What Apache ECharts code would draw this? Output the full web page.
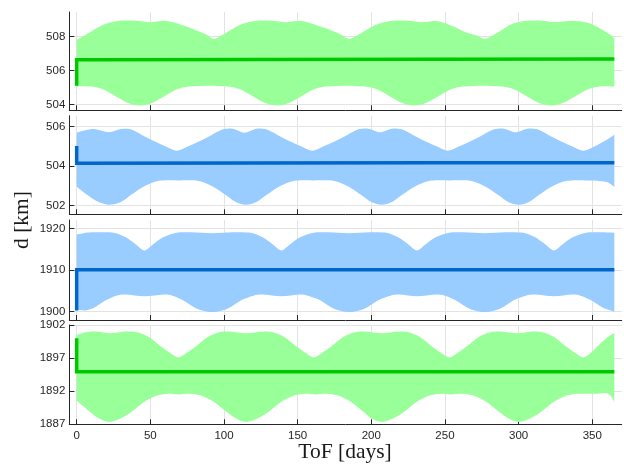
<!DOCTYPE html>
<html>
<head>
<meta charset="utf-8">
<script src="https://cdn.jsdelivr.net/npm/echarts@6/dist/echarts.min.js"></script>
<style>
html, body { margin:0; padding:0; background:#fff; }
#chart { width:624px; height:464px; }
</style>
</head>
<body>
<div id="chart"></div>
<script>
// tick labels
var xTicks = [0, 50, 100, 150, 200, 250, 300, 350];
var p1Ticks = [504, 506, 508];
var p2Ticks = [502, 504, 506];
var p3Ticks = [1900, 1910, 1920];
var p4Ticks = [1887, 1892, 1897, 1902];

// panel 1 envelope [day, km]
var p1Up = [[0,507.8],[5,508.05],[10,508.3],[19,508.72],[28,508.92],[40,508.93],[50,508.85],[60,508.93],[69,508.75],[81,508.38],[88,508.12],[93,507.86],
  [98,508.05],[103,508.3],[112,508.72],[121,508.92],[133,508.93],[142,508.85],[152,508.93],[161,508.72],[173,508.36],[180,508.1],[185,507.86],
  [190,508.05],[195,508.3],[204,508.72],[213,508.92],[225,508.93],[234,508.85],[244,508.92],[253,508.7],[265,508.22],[272,508.05],[277,507.86],
  [282,508.05],[287,508.3],[296,508.75],[305,508.93],[316,508.94],[325,508.86],[336,508.94],[347,508.82],[356,508.45],[362,508.12],[365,507.9]];
var p1Lo = [[0,505.06],[10,505.05],[19,504.85],[27,504.45],[35,504.08],[43,503.94],[51,504.08],[59,504.45],[67,504.85],[76,505.05],[90,505.1],
  [103,505.05],[112,504.85],[120,504.45],[128,504.08],[136,503.94],[144,504.08],[152,504.45],[160,504.85],[169,505.05],[183,505.1],
  [196,505.05],[205,504.85],[213,504.45],[221,504.08],[229,503.94],[237,504.08],[245,504.45],[253,504.85],[262,505.05],[276,505.1],
  [289,505.05],[298,504.85],[306,504.45],[314,504.08],[322,503.94],[330,504.08],[338,504.45],[346,504.85],[355,505.05],[365,505.05]];
var p1Mean = [[0,505.1],[0,506.63],[120,506.64],[240,506.66],[365,506.67]];

// panel 2
var p2Up = [[0,505.7],[6,505.82],[12,505.88],[22,505.72],[30,505.88],[36,505.88],[44,505.6],[53,505.25],[61,504.98],[68,504.78],
  [75,504.98],[83,505.25],[92,505.6],[100,505.88],[106,505.9],[114,505.7],[122,505.9],[128,505.88],[136,505.6],[145,505.25],[153,504.98],[160,504.78],
  [167,504.98],[175,505.25],[184,505.6],[192,505.88],[198,505.9],[206,505.72],[214,505.9],[220,505.88],[228,505.6],[237,505.25],[245,504.98],[252,504.78],
  [259,504.98],[267,505.25],[276,505.6],[284,505.88],[290,505.9],[298,505.72],[306,505.9],[312,505.88],[320,505.6],[329,505.25],[337,504.98],[344,504.78],
  [351,504.98],[359,505.3],[365,505.6]];
var p2Lo = [[0,502.96],[8,502.5],[15,502.18],[22,502.04],[30,502.18],[37,502.55],[45,502.95],[55,503.25],[69,503.28],[83,503.25],
  [93,502.95],[101,502.55],[108,502.18],[115,502.04],[122,502.18],[129,502.55],[137,502.95],[147,503.25],[161,503.28],[175,503.25],
  [185,502.95],[193,502.55],[200,502.18],[207,502.04],[214,502.18],[221,502.55],[229,502.95],[239,503.25],[253,503.28],[268,503.25],
  [278,502.95],[286,502.55],[293,502.18],[300,502.04],[307,502.18],[314,502.55],[322,502.95],[332,503.25],[346,503.28],[360,503.2],[365,502.95]];
var p2Mean = [[0,505.02],[0,504.15],[120,504.16],[240,504.17],[365,504.17]];

// panel 3
var p3Up = [[0,1918.5],[8,1919.0],[18,1919.05],[26,1918.9],[33,1917.9],[40,1916.2],[46,1914.7],[52,1916.2],[59,1917.9],[67,1918.9],
  [78,1919.05],[92,1918.85],[106,1919.05],[119,1918.9],[126,1917.9],[133,1916.2],[139,1914.7],[145,1916.2],[152,1917.9],[160,1918.9],
  [171,1919.05],[185,1918.85],[199,1919.05],[211,1918.9],[218,1917.9],[225,1916.2],[231,1914.7],[237,1916.2],[244,1917.9],[252,1918.9],
  [263,1919.05],[277,1918.85],[291,1919.05],[304,1918.9],[311,1917.9],[318,1916.2],[324,1914.7],[330,1916.2],[337,1917.9],[345,1918.9],
  [355,1919.05],[365,1918.95]];
var p3Lo = [[0,1900.5],[6,1900.3],[12,1901.0],[20,1902.8],[27,1903.85],[33,1904.1],[46,1903.7],[60,1904.1],[65,1903.85],[72,1902.8],[80,1901.0],[86,1900.2],
  [92,1899.9],[98,1900.2],[104,1901.0],[112,1902.8],[120,1903.85],[126,1904.1],[139,1903.7],[152,1904.1],[157,1903.85],[165,1902.8],[173,1901.0],[179,1900.2],
  [185,1899.9],[191,1900.2],[197,1901.0],[205,1902.8],[213,1903.85],[219,1904.1],[231,1903.7],[244,1904.1],[250,1903.85],[257,1902.8],[265,1901.0],[271,1900.2],
  [277,1899.9],[283,1900.2],[289,1901.0],[297,1902.8],[305,1903.85],[311,1904.1],[324,1903.7],[337,1904.1],[342,1903.85],[349,1902.8],[357,1901.0],[363,1900.2],[365,1900.0]];
var p3Mean = [[0,1900.3],[0,1910.05],[365,1910.05]];

// panel 4
var p4Up = [[0,1900.5],[6,1900.9],[13,1901.0],[23,1900.75],[33,1901.0],[41,1900.9],[49,1900.2],[57,1898.8],[64,1897.7],[69,1897.1],
  [74,1897.7],[81,1898.8],[89,1900.2],[97,1900.9],[103,1901.0],[115,1900.75],[127,1901.0],[133,1900.9],[141,1900.2],[149,1898.8],[156,1897.7],[161,1897.1],
  [166,1897.7],[173,1898.8],[181,1900.2],[189,1900.9],[195,1901.0],[207,1900.75],[219,1901.0],[225,1900.9],[233,1900.2],[241,1898.8],[248,1897.7],[253,1897.1],
  [258,1897.7],[265,1898.8],[273,1900.2],[281,1900.9],[287,1901.0],[299,1900.75],[310,1901.0],[316,1900.9],[324,1900.2],[332,1898.8],[339,1897.7],[344,1897.1],
  [349,1897.8],[356,1899.3],[362,1900.4],[365,1900.8]];
var p4Lo = [[0,1890.6],[8,1889.1],[15,1887.9],[22,1887.35],[30,1887.9],[38,1889.0],[46,1890.4],[54,1891.3],[62,1891.6],[69,1891.5],[77,1891.6],
  [85,1891.3],[93,1890.4],[101,1889.0],[108,1887.9],[115,1887.35],[123,1887.9],[131,1889.0],[139,1890.4],[147,1891.3],[155,1891.6],[162,1891.5],[170,1891.6],
  [178,1891.3],[186,1890.4],[194,1889.0],[200,1887.9],[207,1887.35],[215,1887.9],[223,1889.0],[231,1890.4],[239,1891.3],[247,1891.6],[254,1891.5],[262,1891.6],
  [270,1891.3],[278,1890.4],[286,1889.0],[293,1887.9],[300,1887.35],[308,1887.9],[316,1889.0],[324,1890.4],[332,1891.3],[340,1891.6],[352,1891.6],[360,1891.7],[363,1891.2],[365,1890.4]];
var p4Mean = [[0,1900.0],[0,1894.95],[365,1894.95]];

var GREEN_FILL = '#99ff99', GREEN_LINE = '#00c800';
var BLUE_FILL = '#99ccff', BLUE_LINE = '#0066cc';
var INK = '#262626', GRIDC = '#e3e3e3';

var panels = [
  {up:p1Up, lo:p1Lo, mean:p1Mean, ticks:p1Ticks, min:503.65, max:509.45, top:12,    h:98.3,  fill:GREEN_FILL, line:GREEN_LINE},
  {up:p2Up, lo:p2Lo, mean:p2Mean, ticks:p2Ticks, min:501.56, max:506.56, top:115.7, h:98.6,  fill:BLUE_FILL,  line:BLUE_LINE},
  {up:p3Up, lo:p3Lo, mean:p3Mean, ticks:p3Ticks, min:1898,   max:1922,   top:220,   h:100,   fill:BLUE_FILL,  line:BLUE_LINE},
  {up:p4Up, lo:p4Lo, mean:p4Mean, ticks:p4Ticks, min:1887,   max:1902,   top:325,   h:99.3,  fill:GREEN_FILL, line:GREEN_LINE}
];

function bandRender(up, lo, fill){
  return function(params, api){
    var pts = [], i, p;
    p = api.coord(up[0]); pts.push(p, p);
    for (i = 1; i < up.length - 1; i++) pts.push(api.coord(up[i]));
    p = api.coord(up[up.length - 1]); pts.push(p, p);
    p = api.coord(lo[lo.length - 1]); pts.push(p, p);
    for (i = lo.length - 2; i > 0; i--) pts.push(api.coord(lo[i]));
    p = api.coord(lo[0]); pts.push(p, p);
    return {type:'polygon', shape:{points:pts, smooth:0.3}, style:{fill:fill}};
  };
}

function plain(v){ return String(v); }

var labelFont = {color:INK, fontSize:11.5, fontFamily:'"Liberation Sans", Arial, sans-serif', formatter:plain};
var grids = [], xAxes = [], yAxes = [], series = [];
panels.forEach(function(pn, i){
  grids.push({left:69.3, right:2.3, top:pn.top, height:pn.h, containLabel:false});
  xAxes.push({
    gridIndex:i, type:'value', min:-5, max:370,
    axisLine:{show:true, onZero:false, lineStyle:{color:INK, width:1}},
    axisTick:{show:true, inside:true, length:5, customValues:xTicks, lineStyle:{color:INK}},
    axisLabel:Object.assign({show:i === 3, margin:6, customValues:xTicks}, labelFont),
    splitLine:{show:true, lineStyle:{color:GRIDC, width:1}}
  });
  yAxes.push({
    gridIndex:i, type:'value', min:pn.min, max:pn.max,
    axisLine:{show:true, onZero:false, lineStyle:{color:INK, width:1}},
    axisTick:{show:true, inside:true, length:5, customValues:pn.ticks, lineStyle:{color:INK}},
    axisLabel:Object.assign({margin:4, customValues:pn.ticks}, labelFont),
    splitLine:{show:true, lineStyle:{color:GRIDC, width:1}}
  });
  series.push({
    type:'custom', xAxisIndex:i, yAxisIndex:i, z:2, silent:true,
    data:[[0, pn.min]], renderItem:bandRender(pn.up, pn.lo, pn.fill)
  });
  series.push({
    type:'line', xAxisIndex:i, yAxisIndex:i, z:3, data:pn.mean,
    showSymbol:false, symbol:'none', lineStyle:{color:pn.line, width:3.5, join:'miter', cap:'butt'}
  });
});

var chart = echarts.init(document.getElementById('chart'), null, {renderer:'canvas'});
chart.setOption({
  animation:false,
  backgroundColor:'#ffffff',
  grid:grids, xAxis:xAxes, yAxis:yAxes, series:series,
  graphic:[
    {type:'text', x:22, y:220, rotation:Math.PI / 2,
     style:{text:'d [km]', font:'21.5px "Liberation Serif", "DejaVu Serif", serif', fill:'#1a1a1a', align:'center', verticalAlign:'middle'}},
    {type:'text', x:345, y:452,
     style:{text:'ToF [days]', font:'21.5px "Liberation Serif", "DejaVu Serif", serif', fill:'#1a1a1a', align:'center', verticalAlign:'middle'}}
  ]
});
</script>
</body>
</html>
